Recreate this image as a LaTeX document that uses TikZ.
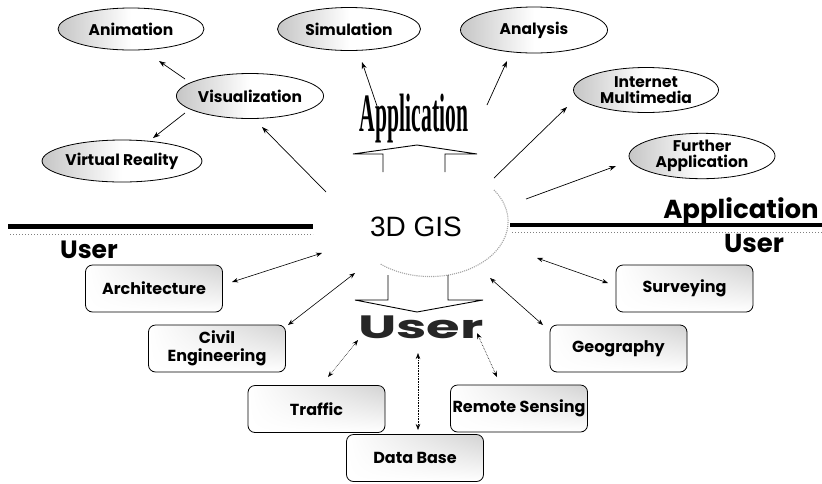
\documentclass[tikz,border=0pt]{standalone}
\usepackage{fontspec}
\usepackage{graphicx}
\setmainfont{Poppins}
\newfontfamily\arialf{Liberation Sans}
\newfontfamily\serifart{Liberation Serif}
\usetikzlibrary{shapes.geometric,arrows.meta,shadings}
\begin{document}
\begin{tikzpicture}[x=1pt,y=-1pt,
  oval/.style={ellipse, draw, line width=0.8pt, inner sep=0pt,
    left color=gray!45, right color=white, middle color=white,
    font=\bfseries\fontsize{15.5}{16.5}\selectfont, align=center},
  ubox/.style={rectangle, rounded corners=7pt, draw, line width=0.8pt,
    minimum width=137pt, minimum height=47pt, inner sep=0pt,
    upper right=gray!35, upper left=white, lower left=white, lower right=white,
    font=\bfseries\fontsize{16}{18}\selectfont, align=center},
  arr/.style={-{Stealth[length=7pt,width=5pt]}, line width=0.7pt},
  darr/.style={{Stealth[length=6pt,width=4.5pt]}-{Stealth[length=6pt,width=4.5pt]}, line width=0.6pt},
  bigtxt/.style={font=\bfseries\fontsize{26}{26}\selectfont, anchor=base, inner sep=0pt},
  blockline/.style={line width=0.9pt, line join=miter}
]
\useasboundingbox (0,0) rectangle (822,483);

% ellipses
\node[oval, minimum width=146pt, minimum height=42pt] (anim) at (131,29) {Animation};
\node[oval, minimum width=143pt, minimum height=43pt] (sim) at (349,29) {Simulation};
\node[oval, minimum width=147pt, minimum height=46pt] (ana) at (534,30) {Analysis};
\node[oval, minimum width=145pt, minimum height=45pt] (inet) at (646,90) {Internet\\Multimedia};
\node[oval, minimum width=146pt, minimum height=45pt] (further) at (702,156) {Further\\Application};
\node[oval, minimum width=146pt, minimum height=45pt] (vis) at (250,96) {Visualization};
\node[oval, minimum width=149pt, minimum height=42pt] (vr) at (122,161) {Virtual Reality};

% speckled halo round 3D GIS
\draw[gray!70, densely dotted, line width=1.1pt] (494,190) arc[start angle=-35, end angle=130, x radius=78, y radius=55];

% 3D GIS
\node[font=\arialf\fontsize{28}{28}\selectfont, anchor=base, inner sep=0pt] (gis) at (416,236) {3D GIS};

% horizontal bars
\fill[black] (8,224) rectangle (313,229);
\draw[gray, dotted, line width=1pt] (10,234) -- (313,234);
\fill[black] (510,223) rectangle (822,227);
\draw[gray, dotted, line width=1pt] (512,232) -- (822,232);

\node[bigtxt, font=\bfseries\fontsize{25}{25}\selectfont] (userL) at (89,258) {User};
\node[bigtxt] (appR) at (741,218) {Application};
\node[bigtxt] (userR) at (754,252) {User};

% upward block arrow with "Application"
\draw[blockline] (383,172) -- (383,154) -- (353,154) -- (417,145) -- (477,154) -- (445,154) -- (445,172);
\node[inner sep=0pt] (apptxt) at (414,119) {\serifart\bfseries\fontsize{30}{30}\selectfont\scalebox{0.72}[1.8]{Application}};

% downward block arrow with "User"
\draw[blockline] (388,275) -- (388,300) -- (355,300) -- (417,312) -- (483,300) -- (448,300) -- (448,275);
\node[inner sep=0pt, text=black!85] (usertxt) at (421,327) {\bfseries\fontsize{34}{34}\selectfont\scalebox{1.6}[0.95]{User}};

% boxes
\node[ubox] (arch) at (154,288.5) {Architecture};
\node[ubox] (civil) at (217,348.5) {Civil\\Engineering};
\node[ubox] (traffic) at (316.5,409) {Traffic};
\node[ubox] (db) at (415,458) {Data Base};
\node[ubox] (remote) at (519,408.5) {Remote Sensing};
\node[ubox] (geo) at (618.5,348.5) {Geography};
\node[ubox] (surv) at (684.5,288.5) {Surveying};

% connector end points
\coordinate (a1s) at (185,79);  \coordinate (a1e) at (159,61);
\coordinate (a2s) at (185,113); \coordinate (a2e) at (153,138);
\coordinate (a3s) at (326,192); \coordinate (a3e) at (262,127);
\coordinate (a4s) at (377,106); \coordinate (a4e) at (362,62);
\coordinate (a5s) at (487,105); \coordinate (a5e) at (507,61);
\coordinate (a6s) at (494,178); \coordinate (a6e) at (567,107);
\coordinate (a7s) at (526,199); \coordinate (a7e) at (616,166);

\coordinate (b1s) at (322,253); \coordinate (b1e) at (232,282);
\coordinate (b2s) at (355,273); \coordinate (b2e) at (288,325);
\coordinate (b3s) at (358,340); \coordinate (b3e) at (328,377);
\coordinate (b4s) at (418,353); \coordinate (b4e) at (418,430);
\coordinate (b5s) at (477,333); \coordinate (b5e) at (497,377);
\coordinate (b6s) at (490,278); \coordinate (b6e) at (543,325);
\coordinate (b7s) at (537,258); \coordinate (b7e) at (608,283);

\draw[arr] (a1s) -- (a1e);
\draw[arr] (a2s) -- (a2e);
\draw[arr] (a3s) -- (a3e);
\draw[arr] (a4s) -- (a4e);
\draw[arr] (a5s) -- (a5e);
\draw[arr] (a6s) -- (a6e);
\draw[arr] (a7s) -- (a7e);

\draw[darr] (b1s) -- (b1e);
\draw[darr] (b2s) -- (b2e);
\draw[darr, densely dotted] (b3s) -- (b3e);
\draw[darr, densely dotted] (b4s) -- (b4e);
\draw[darr, densely dotted] (b5s) -- (b5e);
\draw[darr] (b6s) -- (b6e);
\draw[darr] (b7s) -- (b7e);
\end{tikzpicture}
\end{document}
